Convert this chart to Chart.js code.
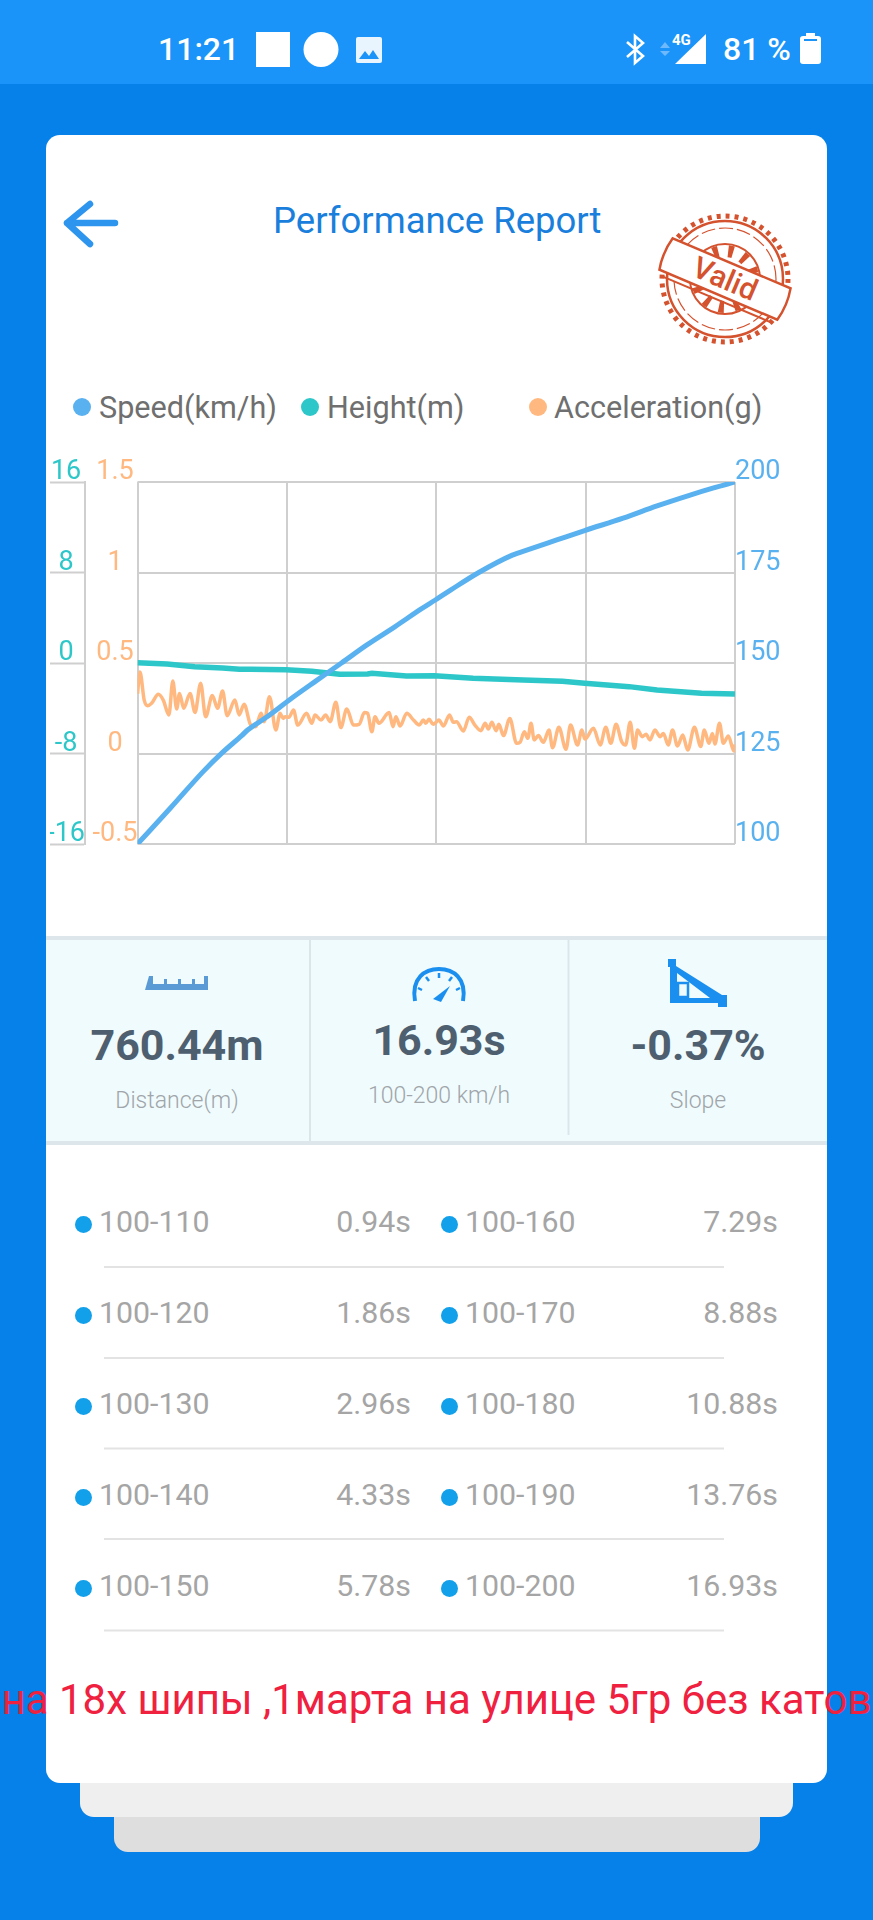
<!DOCTYPE html>
<html>
<head>
<meta charset="utf-8">
<title>Performance Report</title>
<script src="https://cdn.jsdelivr.net/npm/chart.js@4"></script>
<style>
    * { box-sizing: border-box; }
    html, body { margin: 0; width: 873px; height: 1920px; overflow: hidden; background: #0581e9; font-family: Roboto, sans-serif; }
    .abs { position: absolute; white-space: nowrap; }
    #status { position: absolute; left: 0; top: 0; width: 873px; height: 84px; background: #1a94f8; }
    .card { position: absolute; border-radius: 0 0 14px 14px; }
    #main { left: 46px; top: 135px; width: 781px; height: 1648px; background: #fff; border-radius: 14px; }
    #stats { position: absolute; left: 46px; top: 936px; width: 781px; height: 209px; background: #f0fbfd; border-top: 4px solid #dde6ea; border-bottom: 4px solid #dde6ea; }
    #chart { position: absolute; left: 46px; top: 440px; }
    .big { font-size: 43px; font-weight: 700; color: #4e5f70; transform: translateX(-50%); }
    .sub { font-size: 23px; font-weight: 300; color: #9fa5a9; transform: translateX(-50%); }
    .row { font-size: 30.3px; color: #a5a5a5; font-weight: 400; }
    .legend { font-size: 30.6px; color: #6f6f6f; }
</style>
</head>
<body>
<div id="status"></div>
<div class="card" style="left:114px;top:1780px;width:646px;height:72px;background:#dedede"></div>
<div class="card" style="left:80px;top:1750px;width:713px;height:67px;background:#efefef"></div>
<div class="card" id="main"></div>
<div id="stats"></div>

<!-- barra de estado -->
<div class="abs" style="left:158px;top:30px;font-size:32px;font-weight:500;color:#fff">11:21</div>
<svg class="abs" style="left:0;top:0" width="873" height="84">
    <rect x="256" y="32" width="34" height="35" fill="#fff"/>
    <circle cx="321" cy="49.5" r="17.5" fill="#fff"/>
    <rect x="356" y="37" width="26" height="26" rx="2" fill="#e8f4fe"/>
    <path d="M359 59 L365 51 L369 56 L373 50 L379 59 Z" fill="#1a94f8"/>
    <path d="M627 42 L643 56 L635 63 L635 36 L643 43 L627 57" fill="none" stroke="#fff" stroke-width="2.6"/>
    <path d="M660 48 L665 42 L670 48 Z M660 51 L670 51 L665 56 Z" fill="#6db9fb"/>
    <path d="M706 34 L706 64 L675 64 Z" fill="#fff"/>
    <rect x="800" y="36" width="21" height="28" rx="3" fill="#fff"/>
    <rect x="806" y="33" width="9" height="4" fill="#fff"/>
    <rect x="804" y="39" width="13" height="2" fill="#1a94f8"/>
</svg>
<div class="abs" style="left:672px;top:31px;font-size:15px;font-weight:700;color:#fff">4G</div>
<div class="abs" style="left:723px;top:30px;font-size:32px;font-weight:500;color:#fff">81 %</div>

<!-- cabecera -->
<svg class="abs" style="left:60px;top:198px" width="64" height="54">
    <path d="M30 6 L7 25 L30 46 M7 25 L55 25" fill="none" stroke="#2e95ee" stroke-width="6.5" stroke-linecap="round" stroke-linejoin="round"/>
</svg>
<div class="abs" style="left:273px;top:199px;font-size:36.5px;color:#1a7fdc">Performance Report</div>
<svg class="abs" style="left:655px;top:211px" width="140" height="136" viewBox="-70 -68 140 136">
    <g fill="none" stroke="#d4522e">
        <circle r="63" stroke-width="5" stroke-dasharray="4 5"/>
        <circle r="58" stroke-width="2.5"/>
        <circle r="51" stroke-width="1.2" stroke-dasharray="14 4"/>
        <circle r="35" stroke-width="2"/>
        <circle r="28" stroke-width="12" stroke-dasharray="5 10"/>
    </g>
    <g transform="rotate(23)">
        <path d="M-64 -17 H64 Q68 0 64 17 H-64 Q-68 0 -64 -17 Z" fill="#fff" stroke="#d4522e" stroke-width="2.5"/>
        <line x1="-60" y1="22" x2="60" y2="22" stroke="#d4522e" stroke-width="2"/>
        <text x="0" y="10" text-anchor="middle" font-family="Roboto" font-size="30" font-weight="500" fill="#d4522e">Valid</text>
    </g>
</svg>

<div id="legend"></div>
<canvas id="chart" width="782" height="460"></canvas>

<!-- bloque de resumen -->
<svg class="abs" style="left:0;top:930px" width="873" height="220">
    <line x1="310" y1="10" x2="310" y2="211" stroke="#dbe6ea" stroke-width="2"/>
    <line x1="568.5" y1="10" x2="568.5" y2="205" stroke="#dbe6ea" stroke-width="2"/>
    <path transform="translate(3 0)" d="M146 46 h4 v8 h11 v-5 h3 v5 h11 v-5 h3 v5 h11 v-5 h3 v5 h9 v-8 h4 v14 h-63 Z" fill="#5b9bd5"/>
    <path d="M415 71 C411 48 425 39 439 39 C453 39 467 48 463 71" fill="none" stroke="#1a8fef" stroke-width="4"/>
    <path d="M433 69 L450 56 L441 72 Z" fill="#1a8fef"/>
    <path d="M439 43 v5 M426 47 l3 4 M452 47 l-3 4 M418 58 l4 2 M460 58 l-4 2" stroke="#1a8fef" stroke-width="2.5"/>
    <path d="M668 29 h8 v7 L722 65 h5 v12 h-9 v-4 h-48 v-36 h-2 Z M677 43 v25 h33 Z" fill="#1a8fef" fill-rule="evenodd"/>
    <rect x="678" y="53" width="10" height="14" fill="none" stroke="#1a8fef" stroke-width="2.5"/>
</svg>
<div id="summary"></div>
<svg class="abs" style="left:0;top:1260px" width="873" height="380" id="separators"></svg>
<div id="table"></div>
<div class="abs" id="note" style="left:436.5px;top:1675px;transform:translateX(-50%);font-size:42px;color:#f0203f">на 18х шипы ,1марта на улице 5гр без катов</div>

<script>
// tiempo en segundos (eje X) y lecturas del gráfico
const speedTime = [0, 0.94, 1.86, 2.41, 2.96, 3.12, 3.65, 4.33, 5.05, 5.78, 6.5, 7.29, 8.05, 8.44, 8.88, 9.67, 10.62, 11.09, 11.88, 12.67, 13.76, 14.72, 15.66, 16.3, 16.93];
const speedValues = [100, 110, 120, 125.3, 130, 131.5, 135, 140, 145, 150, 155, 160, 165, 167.4, 170.2, 175, 179.8, 181.4, 184, 186.6, 190, 193.4, 196.4, 198.3, 200];
const heightTime = [0, 0.84, 1.62, 2.41, 2.89, 3.2, 4.21, 4.94, 5.73, 6.52, 6.64, 7.62, 8.41, 9.51, 10.93, 12.04, 12.67, 13.93, 14.72, 15.98, 16.93];
const heightValues = [0.03, -0.09, -0.33, -0.44, -0.56, -0.56, -0.6, -0.73, -1.0, -0.97, -0.9, -1.15, -1.12, -1.35, -1.5, -1.62, -1.8, -2.09, -2.39, -2.68, -2.74];
const accelTime = [
    0, 0.07, 0.19, 0.29, 0.40, 0.59, 0.73, 0.89, 1.00, 1.11, 1.19, 1.31, 1.49, 1.63, 1.79, 1.93, 2.12, 2.27, 2.41, 2.54,
    2.76, 2.88, 3.02, 3.21, 3.35, 3.50, 3.59, 3.74, 3.92, 4.04, 4.13, 4.18, 4.29, 4.42, 4.54, 4.79, 4.94, 5.03, 5.20, 5.33,
    5.46, 5.62, 5.76, 5.93, 6.12, 6.28, 6.43, 6.52, 6.64, 6.73, 6.84, 7.13, 7.24, 7.32, 7.44, 7.63, 7.82, 7.98, 8.10, 8.17,
    8.26, 8.38, 8.43, 8.54, 8.67, 8.84, 8.95, 9.04, 9.23, 9.40, 9.56, 9.73, 9.85, 9.94, 10.04, 10.16, 10.24, 10.37, 10.55, 10.74,
    10.84, 10.96, 11.06, 11.15, 11.24, 11.36, 11.50, 11.66, 11.76, 11.94, 12.14, 12.27, 12.47, 12.59, 12.68, 12.92, 13.11, 13.27, 13.41, 13.56,
    13.72, 13.83, 13.96, 14.08, 14.17, 14.30, 14.41, 14.52, 14.66, 14.81, 14.90, 15.04, 15.16, 15.30, 15.45, 15.59, 15.78, 15.96, 16.06, 16.19,
    16.29, 16.36, 16.49, 16.60, 16.74, 16.90, 16.93
];
const accelValues = [
    0.33, 0.45, 0.295, 0.264, 0.277, 0.327, 0.295, 0.213, 0.40, 0.246, 0.332, 0.25, 0.332, 0.227, 0.388, 0.203, 0.32, 0.25, 0.345, 0.209,
    0.295, 0.213, 0.272, 0.157, 0.148, 0.222, 0.176, 0.314, 0.13, 0.222, 0.194, 0.203, 0.2, 0.24, 0.157, 0.222, 0.167, 0.213, 0.185, 0.213,
    0.176, 0.283, 0.143, 0.246, 0.157, 0.161, 0.226, 0.222, 0.12, 0.203, 0.167, 0.226, 0.148, 0.203, 0.152, 0.222, 0.185, 0.157, 0.185, 0.167,
    0.189, 0.161, 0.167, 0.185, 0.152, 0.213, 0.172, 0.176, 0.124, 0.2, 0.157, 0.126, 0.167, 0.135, 0.172, 0.126, 0.161, 0.099, 0.194, 0.056,
    0.062, 0.12, 0.084, 0.167, 0.075, 0.099, 0.062, 0.13, 0.032, 0.145, 0.023, 0.157, 0.047, 0.13, 0.08, 0.139, 0.047, 0.145, 0.056, 0.161,
    0.065, 0.047, 0.172, 0.029, 0.13, 0.093, 0.106, 0.075, 0.13, 0.093, 0.111, 0.047, 0.13, 0.041, 0.102, 0.019, 0.145, 0.038, 0.13, 0.056,
    0.111, 0.052, 0.167, 0.056, 0.097, 0.014, 0.05
];
const timeTicks = [0, 4.2325, 8.465, 12.6975, 16.93];
const speedTicks = [100, 125, 150, 175, 200];
const heightTicks = [-16, -8, 0, 8, 16];
const accelTicks = [-0.5, 0, 0.5, 1, 1.5];

const seriesNames = ["Speed(km/h)", "Height(m)", "Acceleration(g)"];
const seriesColors = ["#5ab1ef", "#2ec7c9", "#ffb980"];

const summaryValues = ["760.44m", "16.93s", "-0.37%"];
const summaryLabels = ["Distance(m)", "100-200 km/h", "Slope"];

const rangeLeft = ["100-110", "100-120", "100-130", "100-140", "100-150"];
const timeLeft = ["0.94s", "1.86s", "2.96s", "4.33s", "5.78s"];
const rangeRight = ["100-160", "100-170", "100-180", "100-190", "100-200"];
const timeRight = ["7.29s", "8.88s", "10.88s", "13.76s", "16.93s"];

// ── HTML alrededor del gráfico ──
function addText(parentId, cls, text, style) {
    const el = document.createElement("div");
    el.className = "abs " + cls;
    el.textContent = text;
    el.style.cssText = style;
    document.getElementById(parentId).appendChild(el);
}

function addDot(parentId, cx, cy, r, color) {
    const style = `left:${cx - r}px;top:${cy - r}px;width:${2 * r}px;height:${2 * r}px;border-radius:50%;background:${color}`;
    addText(parentId, "", "", style);
}

const legendDotX = [82, 310, 537.5];
const legendTextX = [99, 327, 554];
seriesNames.forEach((name, i) => {
    addDot("legend", legendDotX[i], 406.5, 9, seriesColors[i]);
    addText("legend", "legend", name, `left:${legendTextX[i]}px;top:390px`);
});

const summaryX = [177, 439, 698];
const summaryTop = [1020, 1015, 1020];
const labelTop = [1087, 1082, 1087];
summaryValues.forEach((v, i) => {
    addText("summary", "big", v, `left:${summaryX[i]}px;top:${summaryTop[i]}px`);
    addText("summary", "sub", summaryLabels[i], `left:${summaryX[i]}px;top:${labelTop[i]}px`);
});

const rowY = [1222, 1313, 1404, 1495, 1586];
const lineY = [1267, 1358, 1448.5, 1539, 1630.5];
rowY.forEach((y, i) => {
    addDot("table", 83, y + 2, 8.5, "#12a0ea");
    addDot("table", 449, y + 2, 8.5, "#12a0ea");
    addText("table", "row", rangeLeft[i], `left:99px;top:${y - 18}px`);
    addText("table", "row", timeLeft[i], `right:${873 - 411}px;top:${y - 18}px`);
    addText("table", "row", rangeRight[i], `left:465px;top:${y - 18}px`);
    addText("table", "row", timeRight[i], `right:${873 - 778}px;top:${y - 18}px`);
    document.getElementById("separators").innerHTML +=
        `<line x1="104" x2="724" y1="${lineY[i] - 1260}" y2="${lineY[i] - 1260}" stroke="#e3e3e3" stroke-width="2"/>`;
});

// ── Gráfico ──
const toPoints = (xs, ys) => xs.map((x, i) => ({ x: x, y: ys[i] }));
const gridColor = "#cfcfcf";
const tickFont = { family: "Roboto", size: 27, weight: "400" };

new Chart(document.getElementById("chart").getContext("2d"), {
    type: "line",
    data: {
        datasets: [
            { label: seriesNames[0], data: toPoints(speedTime, speedValues), yAxisID: "ySpeed", borderColor: seriesColors[0], borderWidth: 5, cubicInterpolationMode: "monotone" },
            { label: seriesNames[1], data: toPoints(heightTime, heightValues), yAxisID: "yHeight", borderColor: seriesColors[1], borderWidth: 5.5 },
            { label: seriesNames[2], data: toPoints(accelTime, accelValues), yAxisID: "yAccel", borderColor: seriesColors[2], borderWidth: 3.5, cubicInterpolationMode: "monotone" }
        ]
    },
    options: {
        responsive: false,
        animation: false,
        elements: { point: { radius: 0 } },
        layout: { padding: { left: 4, top: 42, bottom: 56, right: 0 } },
        plugins: { legend: { display: false }, tooltip: { enabled: false } },
        scales: {
            x: {
                type: "linear",
                min: 0,
                max: 16.93,
                afterBuildTicks: axis => { axis.ticks = timeTicks.map(v => ({ value: v })); },
                afterFit: axis => { axis.height = 0; },
                ticks: { display: false },
                border: { display: false },
                grid: { color: gridColor, lineWidth: 2, drawTicks: false }
            },
            ySpeed: {
                position: "right",
                min: 100,
                max: 200,
                afterBuildTicks: axis => { axis.ticks = speedTicks.map(v => ({ value: v })); },
                afterFit: axis => { axis.width = 93; },
                ticks: { color: seriesColors[0], font: tickFont, padding: 0, labelOffset: -9.5, callback: v => String(v) },
                border: { display: false },
                grid: { color: gridColor, lineWidth: 2, drawTicks: false }
            },
            yAccel: {
                position: "left",
                weight: 1,
                min: -0.5,
                max: 1.5,
                afterBuildTicks: axis => { axis.ticks = accelTicks.map(v => ({ value: v })); },
                afterFit: axis => { axis.width = 52.5; },
                ticks: { color: seriesColors[2], font: tickFont, padding: 0, crossAlign: "center", labelOffset: -9.5, callback: v => String(v) },
                border: { display: false },
                grid: { display: false, drawTicks: false }
            },
            yHeight: {
                position: "left",
                weight: 2,
                min: -16,
                max: 16,
                afterBuildTicks: axis => { axis.ticks = heightTicks.map(v => ({ value: v })); },
                afterFit: axis => { axis.width = 35; },
                ticks: { color: seriesColors[1], font: tickFont, padding: -35, crossAlign: "center", labelOffset: -9.5, callback: v => String(v) },
                border: { display: true, color: gridColor, width: 2 },
                grid: { drawOnChartArea: false, tickLength: 35, tickColor: gridColor, tickWidth: 2 }
            }
        }
    }
});
</script>
</body>
</html>
